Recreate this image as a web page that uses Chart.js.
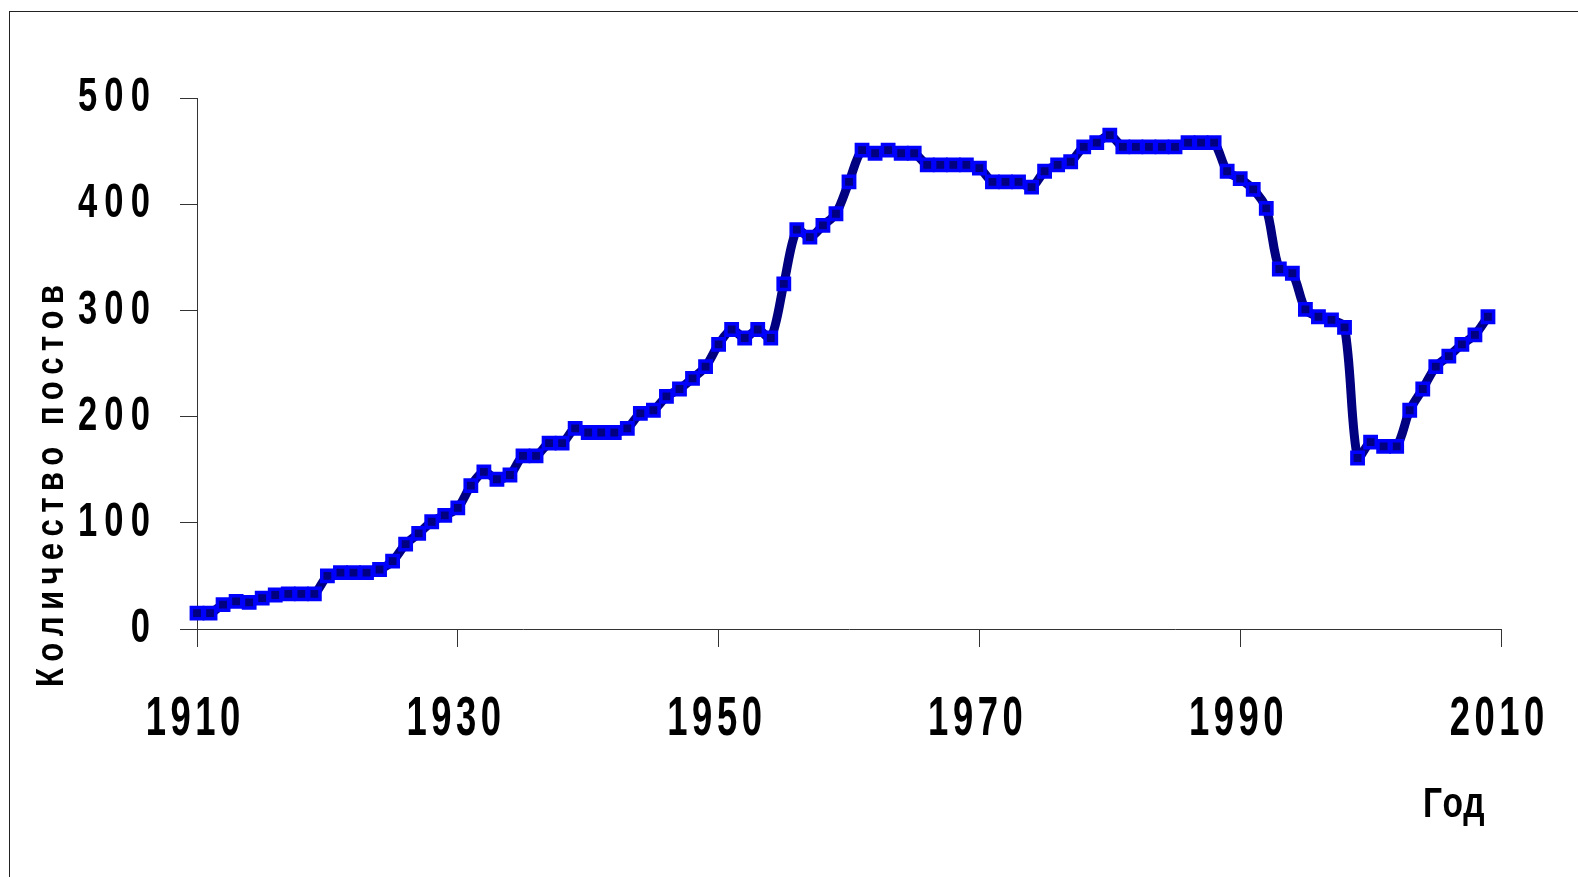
<!DOCTYPE html>
<html><head><meta charset="utf-8">
<script src="https://cdn.jsdelivr.net/npm/chart.js@4"></script>
<style>
html,body{margin:0;padding:0;background:#fff;overflow:hidden;}
#wrap{position:relative;width:1578px;height:877px;overflow:hidden;background:#fff;}
#frame{position:absolute;left:9px;top:11px;width:2000px;height:2000px;border:1px solid #222;pointer-events:none;}
canvas{position:absolute;left:0;top:0;}
</style></head><body>
<div id="wrap"><canvas id="c" width="1578" height="877"></canvas><div id="frame"></div></div>
<script>
const years = [
  1910,1911,1912,1913,1914,1915,1916,1917,1918,1919,
  1920,1921,1922,1923,1924,1925,1926,1927,1928,1929,
  1930,1931,1932,1933,1934,1935,1936,1937,1938,1939,
  1940,1941,1942,1943,1944,1945,1946,1947,1948,1949,
  1950,1951,1952,1953,1954,1955,1956,1957,1958,1959,
  1960,1961,1962,1963,1964,1965,1966,1967,1968,1969,
  1970,1971,1972,1973,1974,1975,1976,1977,1978,1979,
  1980,1981,1982,1983,1984,1985,1986,1987,1988,1989,
  1990,1991,1992,1993,1994,1995,1996,1997,1998,1999,
  2000,2001,2002,2003,2004,2005,2006,2007,2008,2009
];
const stationCount = [
  15,15,23,26,25,29,32,33,33,33,
  50,53,53,53,56,64,80,90,101,107,
  114,135,148,141,145,163,163,175,175,189,
  185,185,185,189,203,206,219,226,236,247,
  268,282,274,282,274,325,376,369,380,391,
  421,451,448,451,448,448,437,437,437,437,
  434,421,421,421,416,431,437,440,454,458,
  465,454,454,454,454,454,458,458,458,431,
  424,414,396,339,335,301,294,291,284,161,
  176,172,172,206,226,247,257,268,277,294
];
const xTickValues = [1910,1930,1950,1970,1990,2010];
const xTickLabels = ['1910','1930','1950','1970','1990','2010'];
const yTickValues = [0,100,200,300,400,500];
const yTickLabels = ['0','100','200','300','400','500'];
const xTitle = 'Год';
const yTitle = 'Количество постов';

const FAMILY = '"Liberation Sans", Arial, sans-serif';
// narrow, letter-spaced text look (per font size): horizontal scale, spacing, shift
const TEXT_STYLE = {
  56: {sx: 0.65, sp: 7, dx: -4},
  48: {sx: 0.72, sp: 10, dx: 0},
  42: {sx: 0.8, sp: 0.5, dx: 0},
  39: {sx: 0.8, sp: 7.9, dx: 0}
};

const canvas = document.getElementById('c');
const ctx = canvas.getContext('2d');
const origFill = CanvasRenderingContext2D.prototype.fillText;
ctx.fillText = function(text, x, y) {
  const m = /(\d+(?:\.\d+)?)px/.exec(this.font);
  const size = m ? Math.round(parseFloat(m[1])) : 0;
  const st = TEXT_STYLE[size] || {sx: 1, sp: 0, dx: 0};
  const chars = Array.from(String(text));
  const widths = chars.map(ch => this.measureText(ch).width);
  const total = widths.reduce((a, b) => a + b, 0) + st.sp * (chars.length - 1);
  const align = this.textAlign;
  let cx = align === 'center' ? -total / 2 : (align === 'right' || align === 'end') ? -total : 0;
  this.save();
  this.translate(x + st.dx, y);
  this.scale(st.sx, 1);
  this.textAlign = 'left';
  chars.forEach((ch, i) => { origFill.call(this, ch, cx, 0); cx += widths[i] + st.sp; });
  this.restore();
};

const titlePlugin = {
  id: 'axisTitles',
  afterDraw(chart) {
    const c = chart.ctx;
    c.save();
    c.fillStyle = '#000';
    c.textBaseline = 'alphabetic';
    c.textAlign = 'left';
    c.font = 'bold 42px ' + FAMILY;
    c.fillText(xTitle, 1423, 817);
    c.translate(63, 687);
    c.rotate(-Math.PI / 2);
    c.font = 'bold 39px ' + FAMILY;
    c.fillText(yTitle, 0, 0);
    c.restore();
  }
};

new Chart(ctx, {
  type: 'line',
  data: {
    datasets: [{
      data: years.map((yr, i) => ({x: yr, y: stationCount[i]})),
      borderColor: '#000080',
      borderWidth: 9,
      tension: 0.3,
      pointStyle: 'rect',
      pointRadius: 8,
      pointBorderWidth: 3.5,
      pointBorderColor: '#0000FF',
      pointBackgroundColor: '#000080',
      clip: false
    }]
  },
  options: {
    responsive: false,
    animation: false,
    events: [],
    layout: {padding: {top: 98, right: 77, left: 0, bottom: 0}},
    plugins: {legend: {display: false}, tooltip: {enabled: false}},
    scales: {
      x: {
        type: 'linear',
        min: 1910, max: 2010,
        afterBuildTicks: s => { s.ticks = xTickValues.map(v => ({value: v})); },
        afterFit: s => { s.height = 248; s.paddingLeft = 0; s.paddingRight = 0; },
        border: {display: true, color: '#333', width: 1},
        grid: {drawOnChartArea: false, drawTicks: true, tickLength: 18, color: '#333'},
        ticks: {
          callback: v => xTickLabels[xTickValues.indexOf(v)],
          color: '#000', padding: 39, maxRotation: 0, autoSkip: false,
          font: {family: FAMILY, size: 56, weight: 'bold', lineHeight: 1.2}
        }
      },
      y: {
        min: 0, max: 500,
        afterBuildTicks: s => { s.ticks = yTickValues.map(v => ({value: v})); },
        afterFit: s => { s.width = 197; s.paddingTop = 0; s.paddingBottom = 0; },
        border: {display: true, color: '#333', width: 1},
        grid: {drawOnChartArea: false, drawTicks: true, tickLength: 17, color: '#333'},
        ticks: {
          callback: v => yTickLabels[yTickValues.indexOf(v)],
          color: '#000', padding: 30,
          font: {family: FAMILY, size: 48, weight: 'bold', lineHeight: 1.2}
        }
      }
    }
  },
  plugins: [titlePlugin]
});
</script>
</body></html>
